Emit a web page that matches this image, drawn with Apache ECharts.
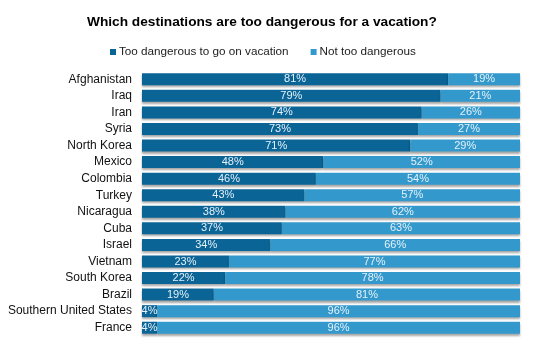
<!DOCTYPE html>
<html><head><meta charset="utf-8">
<script src="https://cdn.jsdelivr.net/npm/echarts@6/dist/echarts.min.js"></script>
<style>html,body{margin:0;padding:0;background:#fff;}#c{width:533px;height:349px;}</style>
</head><body><div id="c"></div>
<script>
const categories = ["Afghanistan","Iraq","Iran","Syria","North Korea","Mexico","Colombia","Turkey","Nicaragua","Cuba","Israel","Vietnam","South Korea","Brazil","Southern United States","France"];
const tooDangerous = [81,79,74,73,71,48,46,43,38,37,34,23,22,19,4,4];
const notTooDangerous = [19,21,26,27,29,52,54,57,62,63,66,77,78,81,96,96];
const seriesNames = ["Too dangerous to go on vacation","Not too dangerous"];

const chart = echarts.init(document.getElementById('c'));
const lbl = {show:true, position:'inside', color:'#e4f1fa', fontSize:11, fontFamily:'Liberation Sans, Arial, sans-serif', formatter:p=>p.value+'%'};
const shadow = {shadowColor:'rgba(0,0,0,0.35)', shadowBlur:2, shadowOffsetY:2};
chart.setOption({
  animation:false,
  title:{text:'Which destinations are too dangerous for a vacation?', left:82, top:10,
    textStyle:{fontSize:13.7, fontWeight:'bold', color:'#000', fontFamily:'Liberation Sans, Arial, sans-serif'}},
  legend:{top:41, left:105, itemWidth:6, itemHeight:6, itemGap:22, icon:'rect',
    textStyle:{fontSize:11.7, color:'#222', padding:[0,0,0,-2], fontFamily:'Liberation Sans, Arial, sans-serif'}},
  grid:{left:142, right:13, top:71, bottom:13},
  xAxis:{type:'value', min:0, max:100, show:false},
  yAxis:{type:'category', data:categories, inverse:true, axisLine:{show:false}, axisTick:{show:false},
    axisLabel:{fontSize:12, color:'#111', margin:10, fontFamily:'Liberation Sans, Arial, sans-serif'}},
  series:[
    {name:seriesNames[0], type:'bar', stack:'a', data:tooDangerous, barWidth:12, label:lbl,
      itemStyle:Object.assign({color:'#0a6496'}, shadow)},
    {name:seriesNames[1], type:'bar', stack:'a', data:notTooDangerous, barWidth:12, label:lbl,
      itemStyle:Object.assign({color:'#3399cc'}, shadow)}
  ]
});
</script></body></html>
